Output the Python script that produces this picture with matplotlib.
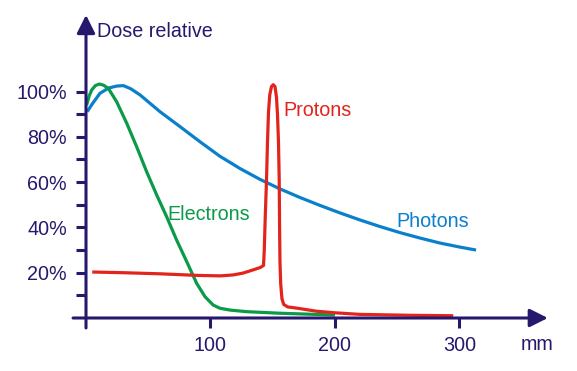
import numpy as np
import matplotlib
matplotlib.use("Agg")
import matplotlib.pyplot as plt

plt.rcParams['font.family'] = ['Liberation Sans', 'DejaVu Sans']

# depth (mm) / relative dose (%)
photon_x = [1, 5, 11.2, 18, 24.6, 30, 36, 43.4, 59.4, 75.5, 91.6, 107.6, 123.7, 139.8, 155.8, 171.9,
            188, 204, 220, 236, 252.2, 268.3, 284.3, 300.4, 313.3]
photon_y = [91.1, 94.5, 99.2, 101.5, 102.4, 102.6, 101.2, 98.5, 91.1, 84.5, 77.8, 71.4, 66.0, 61.2, 57.0, 53.2,
            49.7, 46.4, 43.3, 40.4, 37.7, 35.3, 33.1, 31.3, 30]

electron_x = [0.5, 2.5, 4.6, 7.5, 10.7, 14, 17.9, 24.6, 32.7, 40.7, 48.7, 56.8, 64.8, 72.8, 80.9, 88.9,
              95.6, 102.2, 107.6, 115.7, 129, 155.8, 200]
electron_y = [94, 98, 100.7, 102.6, 103.3, 102.8, 101.4, 95.5, 86, 75.6, 64.6, 54.3, 44.7, 34.4, 24.9, 15.3,
              9.4, 5.7, 4.3, 3.5, 2.8, 2.1, 1.3]

proton_x = [5, 30, 60, 90, 108, 118, 126, 134, 140, 142.6, 143.2, 144, 145, 145.8, 146.6, 147.6, 149, 150.4,
            151.8, 153, 153.8, 154.6, 155.2, 155.5, 155.8, 156.4, 157.4, 158.8, 162, 170, 185, 200, 220, 260, 295]
proton_y = [20.3, 20, 19.5, 18.8, 18.6, 19, 19.8, 21.2, 22.3, 23.2, 30, 45, 61, 78, 91, 98.5, 102.2, 103,
            102.2, 97.5, 90, 78, 61, 40, 25, 15, 8.5, 6, 4.9, 4.3, 3, 2.3, 1.6, 1.2, 1.0]

y_major = [20, 40, 60, 80, 100]
y_labels = ['20%', '40%', '60%', '80%', '100%']
y_minor = [10, 30, 50, 70, 90]
x_major = [100, 200, 300]

navy = '#27186e'
red = '#e2241c'
green = '#0a9a48'
blue = '#0a80cc'

fig = plt.figure(figsize=(5.77, 3.71), dpi=100)
ax = fig.add_axes([0, 0, 1, 1])
ax.set_xlim(-69.08, 394.4)
ax.set_ylim(-23.4, 140.4)

for s in ax.spines.values():
    s.set_color('none')
ax.spines['left'].set_position(('data', 0))
ax.spines['bottom'].set_position(('data', 0))

# axes with arrow heads
arrow = dict(arrowstyle='-|>,head_length=1.1,head_width=0.55', lw=2.2, color=navy,
             shrinkA=0, shrinkB=0)
ax.annotate('', xy=(371, 0), xytext=(-10.4, 0), arrowprops=arrow)
ax.annotate('', xy=(0, 133.8), xytext=(0, -4.4), arrowprops=arrow)

for xs, ys, c in [(photon_x, photon_y, blue), (electron_x, electron_y, green), (proton_x, proton_y, red)]:
    ax.plot(xs, ys, color=c, lw=2.3, solid_joinstyle='round', solid_capstyle='butt')

ax.set_yticks(y_major)
ax.set_yticklabels(y_labels)
ax.set_yticks(y_minor, minor=True)
ax.set_xticks(x_major)
ax.set_xticklabels([str(v) for v in x_major])
ax.tick_params(axis='both', which='both', direction='out', length=7.2, width=2.2,
               color=navy, labelcolor=navy, labelsize=14.2)
ax.tick_params(axis='y', pad=6.5)
ax.tick_params(axis='x', pad=5.5)

ax.text(8.8, 126.3, 'Dose relative', color=navy, fontsize=14.2, ha='left', va='center')
ax.text(362, -11.9, 'mm', color=navy, fontsize=14.2, ha='center', va='center')
ax.text(158.2, 91.8, 'Protons', color=red, fontsize=14.2, ha='left', va='center')
ax.text(65, 45.9, 'Electrons', color=green, fontsize=14.2, ha='left', va='center')
ax.text(249, 42.4, 'Photons', color=blue, fontsize=14.2, ha='left', va='center')

fig.savefig('out.png', dpi=100)
